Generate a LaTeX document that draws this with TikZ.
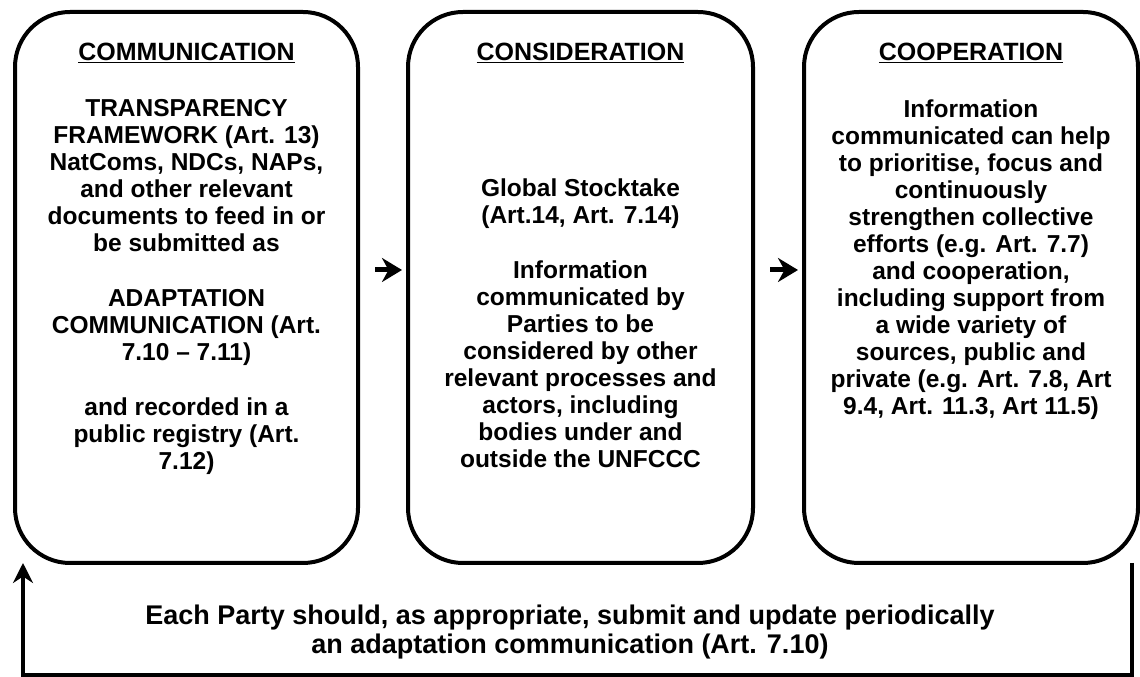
\documentclass[tikz,border=0pt]{standalone}
\usepackage{fontspec}
\setmainfont{Liberation Sans}
\usetikzlibrary{arrows.meta,positioning}

\begin{document}
\begin{tikzpicture}[x=1pt,y=1pt,
  panel/.style={draw, line width=4pt, outer sep=0pt, rounded corners=55pt, minimum width=343pt, minimum height=551pt},
  head/.style={font=\fontsize{25}{30}\selectfont\bfseries},
  body/.style={font=\fontsize{24.5}{27}\selectfont\bfseries, align=center, anchor=north, inner sep=0pt},
  flow/.style={-{Stealth[length=20pt,width=24pt]}, line width=5pt},
  back/.style={-{Stealth[length=20pt,width=20pt]}, line width=3.5pt},
  note/.style={font=\fontsize{27}{29}\selectfont\bfseries, align=center}]
\useasboundingbox (0,0) rectangle (1140,677);
% the three stages
\node[panel] (comm) at (186.5,389.5) {};
\node[panel, minimum width=345pt] (cons) at (580.5,389.5) {};
\node[panel, minimum width=334pt] (coop) at (971,389.5) {};
% headings
\node[head] (commT) at ([yshift=-41pt]comm.north) {\underline{COMMUNICATION}};
\node[head] (consT) at ([yshift=-41pt]cons.north) {\underline{CONSIDERATION}};
\node[head] (coopT) at ([yshift=-41pt]coop.north) {\underline{COOPERATION}};
% box texts
\node[body] (commB) at ([yshift=-87.5pt]comm.north) {TRANSPARENCY\\ FRAMEWORK (Art. 13)\\ NatComs, NDCs, NAPs,\\ and other relevant\\ documents to feed in or\\ be submitted as\\[28pt] ADAPTATION\\ COMMUNICATION (Art.\\ 7.10 – 7.11)\\[28pt] and recorded in a\\ public registry (Art.\\ 7.12)};
\node[body] (consB) at ([yshift=-167pt]cons.north) {Global Stocktake\\ (Art.14, Art. 7.14)\\[28pt] Information\\ communicated by\\ Parties to be\\ considered by other\\ relevant processes and\\ actors, including\\ bodies under and\\ outside the UNFCCC};
\node[body] (coopB) at ([yshift=-87.5pt]coop.north) {Information\\ communicated can help\\ to prioritise, focus and\\ continuously\\ strengthen collective\\ efforts (e.g. Art. 7.7)\\ and cooperation,\\ including support from\\ a wide variety of\\ sources, public and\\ private (e.g. Art. 7.8, Art\\ 9.4, Art. 11.3, Art 11.5)};
% arrows between stages
\draw[flow] ([shift={(17pt,17.5pt)}]comm.east) -- ([shift={(-6pt,17.5pt)}]cons.west);
\draw[flow] ([shift={(17pt,17.5pt)}]cons.east) -- ([shift={(-6pt,17.5pt)}]coop.west);
% feedback loop
\draw[back] ([xshift=-6pt]coop.south east) -- ++(0,-112) -| ([xshift=8pt]comm.south west);
\node[note] (loopT) at (570,45) {Each Party should, as appropriate, submit and update periodically\\ an adaptation communication (Art. 7.10)};
\end{tikzpicture}
\end{document}
